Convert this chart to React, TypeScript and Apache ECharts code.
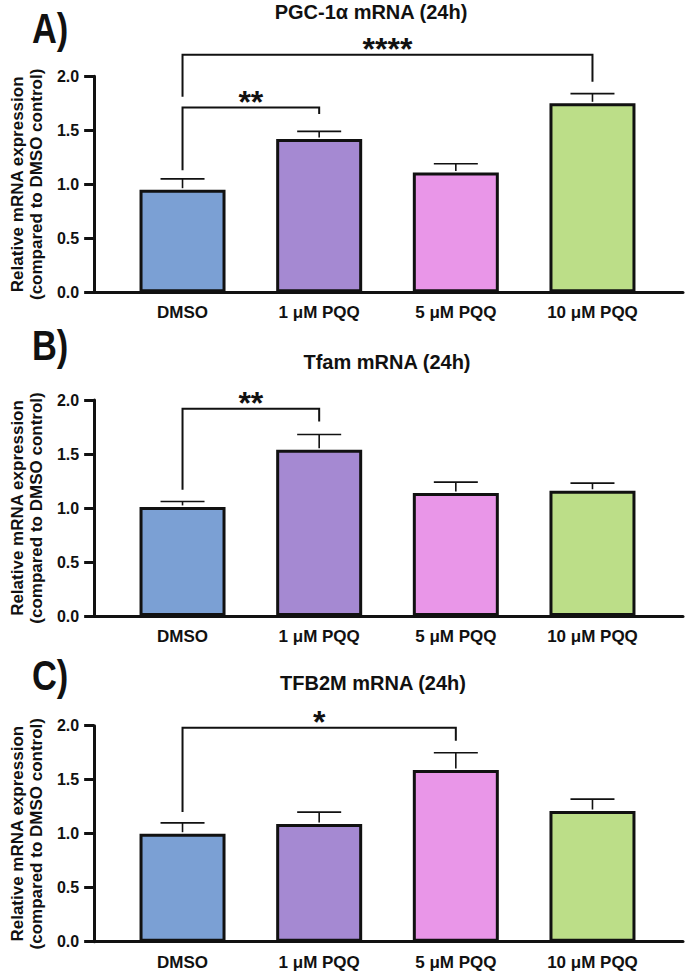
import React, { useEffect, useRef } from 'react';
import * as echarts from 'echarts';

// ---------- data ----------
const categories = ['DMSO', '1 μM PQQ', '5 μM PQQ', '10 μM PQQ'];

const pgcMean = [0.95, 1.42, 1.11, 1.75];
const pgcErr = [0.10, 0.07, 0.08, 0.09];

const tfamMean = [1.01, 1.54, 1.14, 1.16];
const tfamErr = [0.05, 0.14, 0.10, 0.07];

const tfb2mMean = [1.0, 1.09, 1.59, 1.21];
const tfb2mErr = [0.10, 0.11, 0.16, 0.11];

const yMin = 0;
const yMax = 2;
const yStep = 0.5;

type Sig = { from: number; to: number; level: number; leftEnd: number; rightEnd: number; label: string };

const pgcSig: Sig[] = [
  { from: 0, to: 1, level: 1.71, leftEnd: 1.13, rightEnd: 1.65, label: '**' },
  { from: 0, to: 3, level: 2.2, leftEnd: 1.81, rightEnd: 1.95, label: '****' },
];
const tfamSig: Sig[] = [{ from: 0, to: 1, level: 1.92, leftEnd: 1.17, rightEnd: 1.8, label: '**' }];
const tfb2mSig: Sig[] = [{ from: 0, to: 2, level: 1.98, leftEnd: 1.2, rightEnd: 1.86, label: '*' }];

const yName = 'Relative mRNA expression\n(compared to DMSO control)';

// ---------- style ----------
const BAR_COLORS = ['#7BA0D4', '#A589D2', '#E996E8', '#BCDE88'];
const INK = '#111111';
const FONT = '"Liberation Sans", Arial, Helvetica, sans-serif';
const GRID_H = 216;

const panels = [
  { title: 'PGC-1α mRNA (24h)', tag: 'A)', mean: pgcMean, err: pgcErr, sig: pgcSig, top: 76.3, titleX: 371, titleY: 11.5, tagY: 28 },
  { title: 'Tfam mRNA (24h)', tag: 'B)', mean: tfamMean, err: tfamErr, sig: tfamSig, top: 400, titleX: 387, titleY: 361.5, tagY: 345 },
  { title: 'TFB2M mRNA (24h)', tag: 'C)', mean: tfb2mMean, err: tfb2mErr, sig: tfb2mSig, top: 725.7, titleX: 373, titleY: 682.5, tagY: 675 },
];

export default function App() {
  const ref = useRef<HTMLDivElement>(null);

  useEffect(() => {
    if (!ref.current) return;
    const chart = echarts.init(ref.current, null, { renderer: 'svg' });

    const grid: any[] = [];
    const xAxis: any[] = [];
    const yAxis: any[] = [];
    const series: any[] = [];
    const graphic: any[] = [];

    panels.forEach((p, k) => {
      const gAxes = 2 * k;
      const gBars = 2 * k + 1;
      grid.push({ left: 90, right: 2, top: p.top, height: GRID_H });
      grid.push({ left: 114.2, right: 24.2, top: p.top, height: GRID_H });

      xAxis.push({
        gridIndex: gAxes,
        type: 'value',
        min: 0,
        max: 1,
        axisLine: { show: true, onZero: false, lineStyle: { color: INK, width: 3 } },
        axisTick: { show: false },
        axisLabel: { show: false },
        splitLine: { show: false },
      });
      xAxis.push({
        gridIndex: gBars,
        type: 'category',
        data: categories,
        axisLine: { show: false },
        axisTick: { show: false },
        axisLabel: {
          interval: 0,
          margin: 12,
          color: INK,
          fontWeight: 'bold',
          fontSize: 17,
          fontFamily: FONT,
        },
      });

      yAxis.push({
        gridIndex: gAxes,
        type: 'value',
        min: yMin,
        max: yMax,
        interval: yStep,
        name: yName,
        nameLocation: 'middle',
        nameRotate: 90,
        nameGap: 45,
        nameTextStyle: {
          color: INK,
          fontWeight: 'bold',
          fontSize: 17,
          fontFamily: FONT,
          lineHeight: 19,
          align: 'center',
        },
        axisLine: { show: true, onZero: false, lineStyle: { color: INK, width: 3 } },
        axisTick: { show: true, length: 10, lineStyle: { color: INK, width: 3 } },
        axisLabel: {
          margin: 15,
          color: INK,
          fontWeight: 'bold',
          fontSize: 16,
          fontFamily: FONT,
          formatter: (v: number) => v.toFixed(1),
        },
        splitLine: { show: false },
      });
      yAxis.push({ gridIndex: gBars, type: 'value', min: yMin, max: yMax, show: false });

      series.push({
        type: 'bar',
        xAxisIndex: gBars,
        yAxisIndex: gBars,
        barWidth: 86,
        data: p.mean.map((v, i) => ({ value: v, itemStyle: { color: BAR_COLORS[i] } })),
        itemStyle: { borderColor: INK, borderWidth: 3 },
        z: 2,
      });

      series.push({
        type: 'custom',
        xAxisIndex: gBars,
        yAxisIndex: gBars,
        z: 3,
        encode: { x: 0, y: [1, 2] },
        data: p.mean.map((v, i) => [i, v, v + p.err[i]]),
        renderItem: (params: any, api: any) => {
          const i = api.value(0);
          const top = api.coord([i, api.value(1)]);
          const up = api.coord([i, api.value(2)]);
          return {
            type: 'group',
            children: [
              { type: 'line', shape: { x1: top[0], y1: top[1] - 1.5, x2: up[0], y2: up[1] }, style: { stroke: INK, lineWidth: 1.6 } },
              { type: 'line', shape: { x1: up[0] - 22, y1: up[1], x2: up[0] + 22, y2: up[1] }, style: { stroke: INK, lineWidth: 1.6 } },
            ],
          };
        },
      });

      const sig = p.sig;
      series.push({
        type: 'custom',
        xAxisIndex: gBars,
        yAxisIndex: gBars,
        z: 4,
        clip: false,
        encode: { x: [0, 2], y: [1, 3, 4] },
        data: sig.map((s) => [s.from, s.level, s.to, s.leftEnd, s.rightEnd]),
        renderItem: (params: any, api: any) => {
          const a = api.coord([api.value(0), api.value(1)]);
          const b = api.coord([api.value(2), api.value(1)]);
          const l = api.coord([api.value(0), api.value(3)]);
          const r = api.coord([api.value(2), api.value(4)]);
          return {
            type: 'group',
            children: [
              {
                type: 'polyline',
                shape: { points: [[l[0], l[1]], [a[0], a[1]], [b[0], b[1]], [r[0], r[1]]] },
                style: { stroke: INK, lineWidth: 2, fill: null },
              },
              {
                type: 'text',
                x: (a[0] + b[0]) / 2,
                y: a[1] - 6,
                style: {
                  text: sig[params.dataIndex].label,
                  font: `bold 32px ${FONT}`,
                  fill: INK,
                  align: 'center',
                  verticalAlign: 'middle',
                },
              },
            ],
          };
        },
      });

      graphic.push({
        type: 'text',
        x: p.titleX,
        y: p.titleY,
        style: { text: p.title, font: `bold 20px ${FONT}`, fill: INK, align: 'center', verticalAlign: 'middle' },
      });
      graphic.push({
        type: 'text',
        x: 32,
        y: p.tagY,
        scaleX: 0.82,
        style: { text: p.tag, font: `bold 42px ${FONT}`, fill: INK, align: 'left', verticalAlign: 'middle' },
      });
    });

    chart.setOption({
      animation: false,
      backgroundColor: '#ffffff',
      grid,
      xAxis,
      yAxis,
      series,
      graphic,
    });

    return () => chart.dispose();
  }, []);

  return (
    <div
      ref={ref}
      style={{ position: 'absolute', left: 0, top: 0, width: 685, height: 973, background: '#fff' }}
    />
  );
}
